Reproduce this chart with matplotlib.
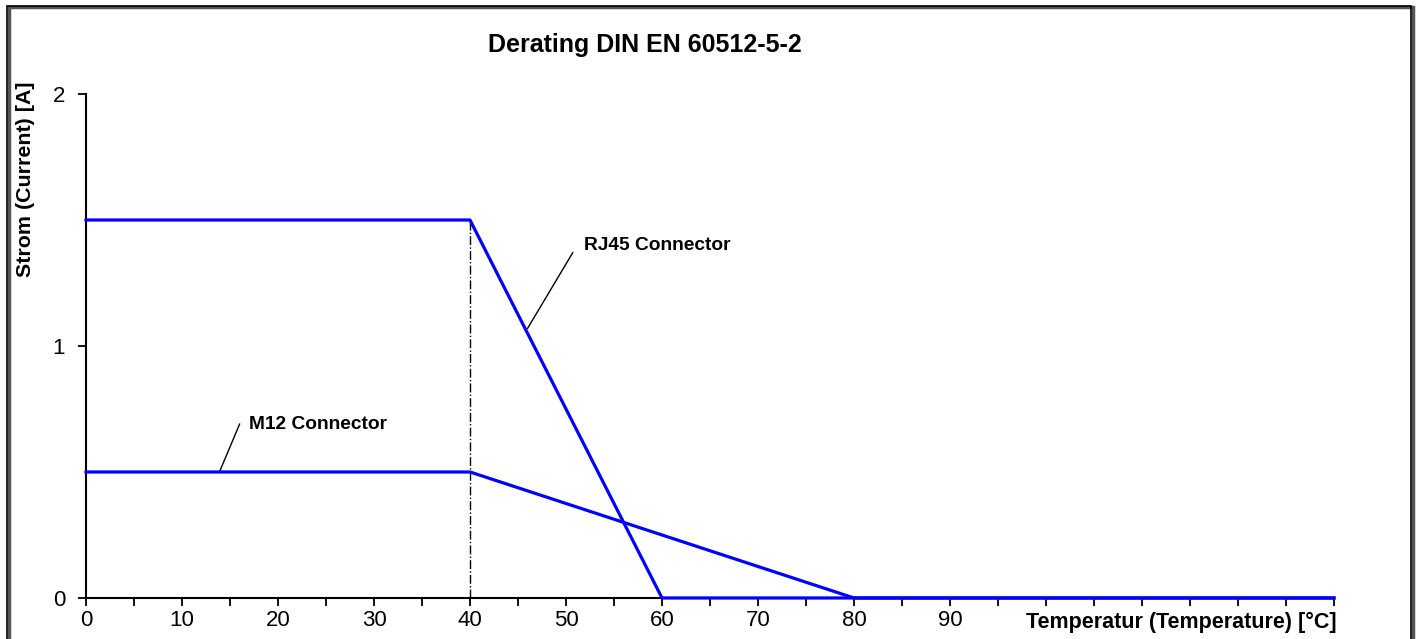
import matplotlib
matplotlib.use('Agg')
import matplotlib.pyplot as plt
from matplotlib.patches import Rectangle

plt.rcParams['font.family'] = ['Liberation Sans', 'DejaVu Sans']

# Derating curves: temperature [°C] -> current [A]
rj45_temp = [0, 40, 60, 130]
rj45_current = [1.5, 1.5, 0, 0]
m12_temp = [0, 40, 80, 130]
m12_current = [0.5, 0.5, 0, 0]

x_ticks = [0, 10, 20, 30, 40, 50, 60, 70, 80, 90]
y_ticks = [0, 1, 2]

fig = plt.figure(figsize=(14.17, 6.39), dpi=100)
ax = fig.add_axes([0.0607, 0.0642, 0.8807, 0.7887])

# outer frame with a little shadow
fig.patches.append(Rectangle((0.0065, -0.02), 0.9905, 1.0095, transform=fig.transFigure,
                             fill=False, edgecolor='#555555', linewidth=2.5, zorder=0))
fig.patches.append(Rectangle((0.005, -0.02), 0.9905, 1.011, transform=fig.transFigure,
                             fill=False, edgecolor='black', linewidth=1.2, zorder=1))

# reference line at 40 °C
ax.plot([40, 40], [0, 1.5], color='black', linestyle='-.', linewidth=1.0, zorder=2)

ax.plot(rj45_temp, rj45_current, color='#0000ff', linewidth=2.3, zorder=3, clip_on=False)
ax.plot(m12_temp, m12_current, color='#0000ff', linewidth=2.3, zorder=3, clip_on=False)

ax.set_xlim(0, 130)
ax.set_ylim(0, 2)
ax.set_xticks(x_ticks)
ax.set_xticks(range(5, 131, 5), minor=True)
ax.set_yticks(y_ticks)
ax.tick_params(axis='both', which='both', direction='out', length=6, width=1.3,
               labelsize=16, colors='black')
ax.tick_params(axis='x', pad=3)
ax.tick_params(axis='y', pad=9)
for s in ['top', 'right']:
    ax.spines[s].set_visible(False)
for s in ['left', 'bottom']:
    ax.spines[s].set_linewidth(1.5)

# labels for the two curves
ax.plot([46.0, 50.7], [1.07, 1.37], color='black', linewidth=1.0)
ax.text(51.9, 1.40, 'RJ45 Connector', fontsize=13.8, fontweight='bold', va='center', ha='left')
ax.plot([13.9, 16.0], [0.5, 0.69], color='black', linewidth=1.0)
ax.text(17.0, 0.69, 'M12 Connector', fontsize=13.8, fontweight='bold', va='center', ha='left')

fig.text(0.455, 0.93, 'Derating DIN EN 60512-5-2', fontsize=18, fontweight='bold',
         ha='center', va='center')
fig.text(0.018, 0.872, 'Strom (Current) [A]', fontsize=15.4, fontweight='bold',
         rotation=90, ha='center', va='top')
ax.text(1.002, -0.048, 'Temperatur (Temperature) [°C]', transform=ax.transAxes,
        fontsize=15.5, fontweight='bold', ha='right', va='center')

fig.savefig('out.png', dpi=100)
